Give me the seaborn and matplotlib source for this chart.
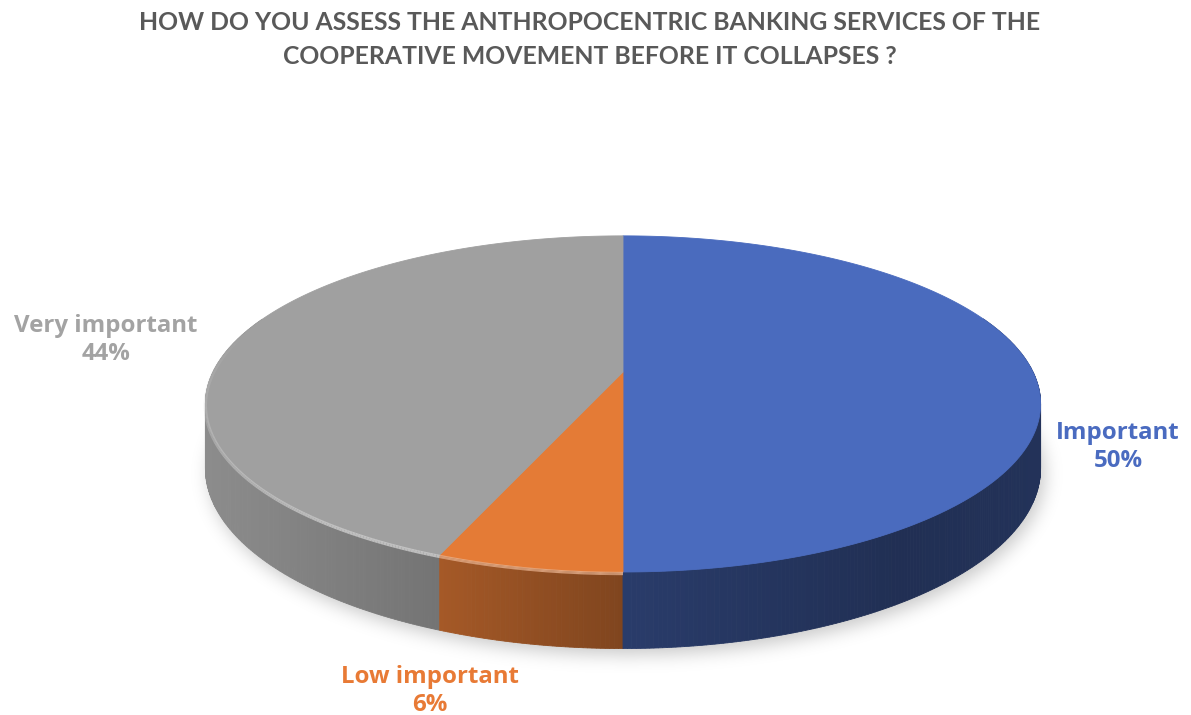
import numpy as np
import matplotlib
matplotlib.use("Agg")
import matplotlib.pyplot as plt
from matplotlib.patches import Polygon
from matplotlib.path import Path
from matplotlib.collections import LineCollection
import seaborn as sns

# Survey answers and their shares (percent)
categories = ["Important", "Low important", "Very important"]
shares = [50, 6, 44]
title_lines = ["HOW DO YOU ASSESS THE ANTHROPOCENTRIC BANKING SERVICES OF THE",
               "COOPERATIVE MOVEMENT BEFORE IT COLLAPSES ?"]

sns.set_theme(style="white")
plt.rcParams["font.family"] = ["Lato", "DejaVu Sans"]

palette = sns.color_palette(["#4A6BBE", "#E47B36", "#A0A0A0"])
label_colors = ["#4A6BC0", "#E87A35", "#A3A3A3"]
rim_strength = [0.0, 0.75, 0.8]

W, H = 1191, 715
fig = plt.figure(figsize=(W / 100, H / 100), dpi=100)
ax = fig.add_axes([0, 0, 1, 1])
ax.set_xlim(0, W)
ax.set_ylim(H, 0)
ax.set_axis_off()

# projection of a flat disc seen in perspective
CX, CY = 623.0, 372.0
SX, SY = 410.0, 162.0
PERSP = 0.19
DEPTH = 62.0


def project(theta, z=0.0, r=1.0):
    theta = np.asarray(theta, dtype=float)
    x = r * np.sin(theta)
    v = -r * np.cos(theta)
    w = 1.0 - PERSP * v
    return CX + SX * x / w, CY + (SY * v + DEPTH * z) / w


# slice angles, clockwise from 12 o'clock
bounds = np.concatenate([[0], np.cumsum(shares)]) / sum(shares) * 2 * np.pi

# soft drop shadow under the disc
tt = np.linspace(0, 2 * np.pi, 400)
bx, by = project(tt, 1.0)
shadow_path = Path(np.column_stack([bx + 4, by + 6]))
yy, xx = np.mgrid[0:H, 0:W]
mask = shadow_path.contains_points(np.column_stack([xx.ravel() + 0.5, yy.ravel() + 0.5])).reshape(H, W).astype(float)
k = np.exp(-0.5 * (np.arange(-30, 31) / 9.0) ** 2)
k /= k.sum()
blur = np.apply_along_axis(lambda r: np.convolve(r, k, mode="same"), 1, mask)
blur = np.apply_along_axis(lambda c: np.convolve(c, k, mode="same"), 0, blur)
rgba = np.zeros((H, W, 4))
rgba[..., 3] = 0.22 * blur
ax.imshow(rgba, extent=(0, W, H, 0), zorder=0, interpolation="bilinear")

# side wall, built from thin strips drawn back to front
shade_x = [200, 445, 623, 900, 1045]
shade_k = [0.88, 0.72, 0.56, 0.44, 0.47]
strips = []
for i, col in enumerate(palette):
    a0, a1 = bounds[i], bounds[i + 1]
    n = max(int(np.degrees(a1 - a0) / 0.5), 2)
    edges = np.linspace(a0, a1, n + 1)
    for t0, t1 in zip(edges[:-1], edges[1:]):
        tm = 0.5 * (t0 + t1)
        if -np.cos(tm) < -0.35:
            continue
        xt, yt = project([t0, t1], 0.0)
        xb, yb = project([t1, t0], 1.0)
        xm, _ = project(tm)
        f = np.interp(xm, shade_x, shade_k)
        c = tuple(np.clip(np.array(col) * f, 0, 1))
        strips.append((-np.cos(tm), np.column_stack([np.r_[xt, xb], np.r_[yt, yb]]), c))
strips.sort(key=lambda s: s[0])
for _, pts, c in strips:
    ax.add_patch(Polygon(pts, closed=True, facecolor=c, edgecolor=c, lw=0.6, zorder=2))

# top face
for i, col in enumerate(palette):
    arc = np.linspace(bounds[i], bounds[i + 1], 200)
    ax_, ay_ = project(arc)
    pts = np.column_stack([np.r_[CX, ax_], np.r_[CY, ay_]])
    ax.add_patch(Polygon(pts, closed=True, facecolor=col, edgecolor=col, lw=0.6, zorder=3))

# rounded bevel highlight on the front rim, fading towards the left
for i, col in enumerate(palette):
    if rim_strength[i] <= 0:
        continue
    lo, hi = bounds[i], min(bounds[i + 1], np.radians(285))
    arc = np.linspace(lo, hi, 200)
    hx, hy = project(arc, 0.0, 1.0)
    hy = hy + 1.5
    segs = np.stack([np.column_stack([hx[:-1], hy[:-1]]), np.column_stack([hx[1:], hy[1:]])], axis=1)
    deg = np.degrees(0.5 * (arc[:-1] + arc[1:]))
    alpha = rim_strength[i] * np.clip((285 - deg) / 70.0, 0, 1)
    light = np.clip(np.array(col) + (1 - np.array(col)) * 0.5, 0, 1)
    cols = np.column_stack([np.tile(light, (len(alpha), 1)), alpha])
    ax.add_collection(LineCollection(segs, colors=cols, linewidths=2.4, zorder=4, capstyle="butt"))

# title
for j, line in enumerate(title_lines):
    ax.text(590, 22 + 35 * j, line, ha="center", va="center", fontsize=17.8,
            fontweight="bold", color="#595959", zorder=5)

# data labels
label_xy = [(1118, 447), (430, 691), (106, 340)]
for (lx, ly), name, val, c in zip(label_xy, categories, shares, label_colors):
    ax.text(lx, ly, f"{name}\n{val}%", ha="center", va="center", fontsize=17.3,
            fontweight="bold", color=c, linespacing=1.2, zorder=5,
            family=["Open Sans", "DejaVu Sans"])

fig.savefig("out.png", dpi=100, facecolor="white")
